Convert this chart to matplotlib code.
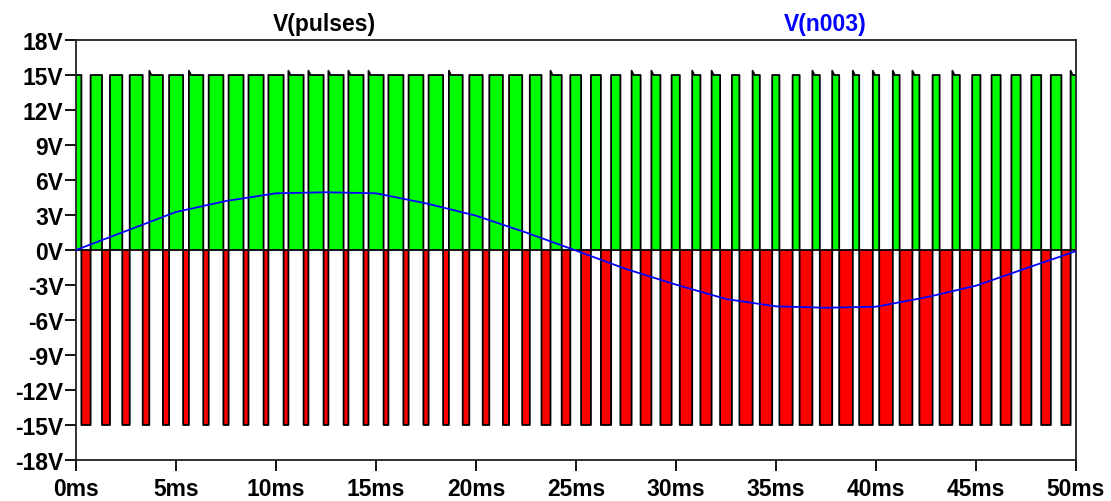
import numpy as np
import matplotlib.pyplot as plt

plt.rcParams['font.family'] = ['Liberation Sans', 'DejaVu Sans']
plt.rcParams['font.weight'] = 'bold'

# PWM output: one negative (-15V) pulse per 1ms carrier period, centred at k+0.5 ms
PERIOD_MS = 1.0
V_HIGH = 15.0
V_LOW = -15.0
red_width_ms = [0.46, 0.40, 0.37, 0.33, 0.31, 0.29, 0.27, 0.26, 0.25, 0.24,
                0.24, 0.24, 0.24, 0.24, 0.25, 0.24, 0.26, 0.26, 0.29, 0.33,
                0.33, 0.31, 0.38, 0.45, 0.43, 0.49, 0.51, 0.56, 0.54, 0.56,
                0.62, 0.56, 0.59, 0.66, 0.62, 0.66, 0.64, 0.62, 0.68, 0.68,
                0.68, 0.64, 0.66, 0.64, 0.62, 0.56, 0.54, 0.54, 0.48, 0.46]
# positive pulses (index = ms) whose rising edge overshoots a little
overshoot_pulses = [4, 6, 11, 12, 13, 14, 15, 19, 24, 28, 29, 31, 32, 34,
                    37, 38, 39, 40, 41, 42, 44, 50]
OVERSHOOT_V = 15.37

# filtered output V(n003)
sine_t_ms = [0, 2.5, 5, 7.5, 10, 12.5, 15, 17.5, 20, 22.5, 25,
             27.5, 30, 32.5, 35, 37.5, 40, 42.5, 45, 47.5, 50]
sine_v = [0.0, 1.63, 3.26, 4.2, 4.86, 4.95, 4.86, 4.0, 2.94, 1.5, -0.05,
          -1.63, -2.97, -4.2, -4.83, -4.95, -4.86, -4.06, -3.06, -1.57, -0.1]

yticks = list(range(-18, 19, 3))
xticks = list(range(0, 51, 5))

# build the square wave with vertical edges
t = [0.0]
v = [V_HIGH]
for k, w in enumerate(red_width_ms):
    mid = k * PERIOD_MS + PERIOD_MS / 2
    fall = mid - w / 2
    rise = mid + w / 2
    t += [fall, fall, rise]
    v += [V_HIGH, V_LOW, V_LOW]
    if (k + 1) in overshoot_pulses:
        t += [rise, rise + 0.1]
        v += [OVERSHOOT_V, V_HIGH]
    else:
        t += [rise]
        v += [V_HIGH]
t.append(50.0)
v.append(V_HIGH)
t = np.array(t)
v = np.array(v)

fig = plt.figure(figsize=(11.11, 5.02), dpi=100)
ax = fig.add_axes([76 / 1111, 1 - 461 / 502, 1000 / 1111, 420 / 502])

ax.fill_between(t, v, 0, where=v > 0, color='#00ff00', lw=0, zorder=1)
ax.fill_between(t, v, 0, where=v < 0, color='#ff0000', lw=0, zorder=1)
ax.plot(t, v, color='black', lw=1.3, zorder=2)
ax.axhline(0, color='black', lw=1.3, zorder=2)
ax.plot(sine_t_ms, sine_v, color='#0000ff', lw=1.3, zorder=3)

ax.set_xlim(0, 50)
ax.set_ylim(-18, 18)
ax.set_xticks(xticks)
ax.set_xticklabels([f'{x}ms' for x in xticks])
ax.set_yticks(yticks)
ax.set_yticklabels([f'{y}V'.replace('\u2212', '-') for y in yticks])
ax.tick_params(axis='both', direction='out', length=8, width=1.3,
               labelsize=16.5, colors='black')
ax.tick_params(axis='y', pad=1)
ax.tick_params(axis='x', pad=4)
for lab in ax.get_xticklabels() + ax.get_yticklabels():
    lab.set_fontweight('bold')
for sp in ax.spines.values():
    sp.set_linewidth(1.3)
    sp.set_color('#222222')

fig.text(324.5 / 1111, 1 - 31 / 502, 'V(pulses)', ha='center', va='baseline',
         fontsize=16.5, fontweight='bold', color='black')
fig.text(825 / 1111, 1 - 31 / 502, 'V(n003)', ha='center', va='baseline',
         fontsize=16.5, fontweight='bold', color='#0000ff')

fig.savefig('out.png', dpi=100)
